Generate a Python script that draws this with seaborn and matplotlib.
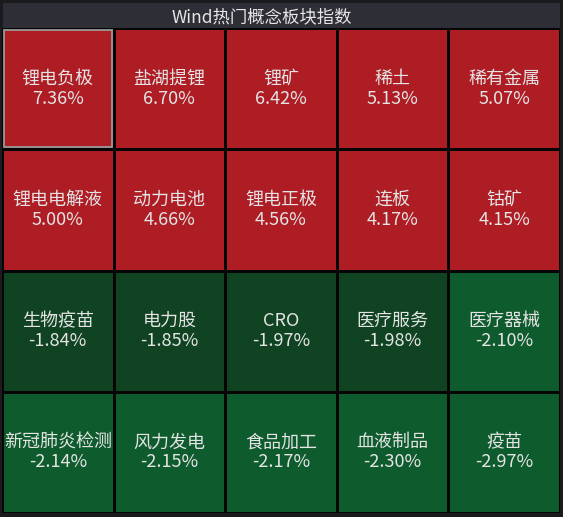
import numpy as np
import pandas as pd
import seaborn as sns
import matplotlib.pyplot as plt
from matplotlib.colors import ListedColormap, BoundaryNorm
from matplotlib.patches import Rectangle

names = ['锂电负极', '盐湖提锂', '锂矿', '稀土', '稀有金属',
         '锂电电解液', '动力电池', '锂电正极', '连板', '钴矿',
         '生物疫苗', '电力股', 'CRO', '医疗服务', '医疗器械',
         '新冠肺炎检测', '风力发电', '食品加工', '血液制品', '疫苗']
changes = [7.36, 6.70, 6.42, 5.13, 5.07,
           5.00, 4.66, 4.56, 4.17, 4.15,
           -1.84, -1.85, -1.97, -1.98, -2.10,
           -2.14, -2.15, -2.17, -2.30, -2.97]
title = 'Wind热门概念板块指数'

nrows, ncols = 4, 5
vals = np.array(changes).reshape(nrows, ncols)
labels = np.array([f'{n}\n{v:.2f}%' for n, v in zip(names, changes)]).reshape(nrows, ncols)
df = pd.DataFrame(vals)

sns.set_theme(style='white')
plt.rcParams['font.family'] = ['Noto Sans CJK SC', 'DejaVu Sans']

bg = '#1b1b1f'
fig = plt.figure(figsize=(5.63, 5.17), dpi=100, facecolor=bg)
W, H = 563, 517

# title bar
tax = fig.add_axes([3 / W, 1 - 28 / H, 557 / W, 25 / H])
tax.set_facecolor('#2e2e36')
tax.set_xticks([]); tax.set_yticks([])
for s in tax.spines.values():
    s.set_visible(False)
tax.text(259 / 557, 0.45, title, ha='center', va='center', color='#e6e6e6', fontsize=12.5)

ax = fig.add_axes([2 / W, 1 - 513 / H, 558 / W, 485 / H])
cmap = ListedColormap(['#0e5b2d', '#0f4322', '#ae1c24'])
norm = BoundaryNorm([-100, -2.0, 0, 100], cmap.N)
sns.heatmap(df, ax=ax, cmap=cmap, norm=norm, cbar=False,
            annot=labels, fmt='', linewidths=1.0, linecolor='#050505',
            annot_kws={'color': '#e4e4e4', 'fontsize': 13, 'linespacing': 1.15})
ax.set_xticks([]); ax.set_yticks([])
ax.set_xlabel(''); ax.set_ylabel('')

# highlighted first cell
ax.add_patch(Rectangle((0.015, 0.015), 0.97, 0.97, fill=False, edgecolor='#9a9a9a', lw=1.3))

fig.savefig('out.png', dpi=100, facecolor=bg)
